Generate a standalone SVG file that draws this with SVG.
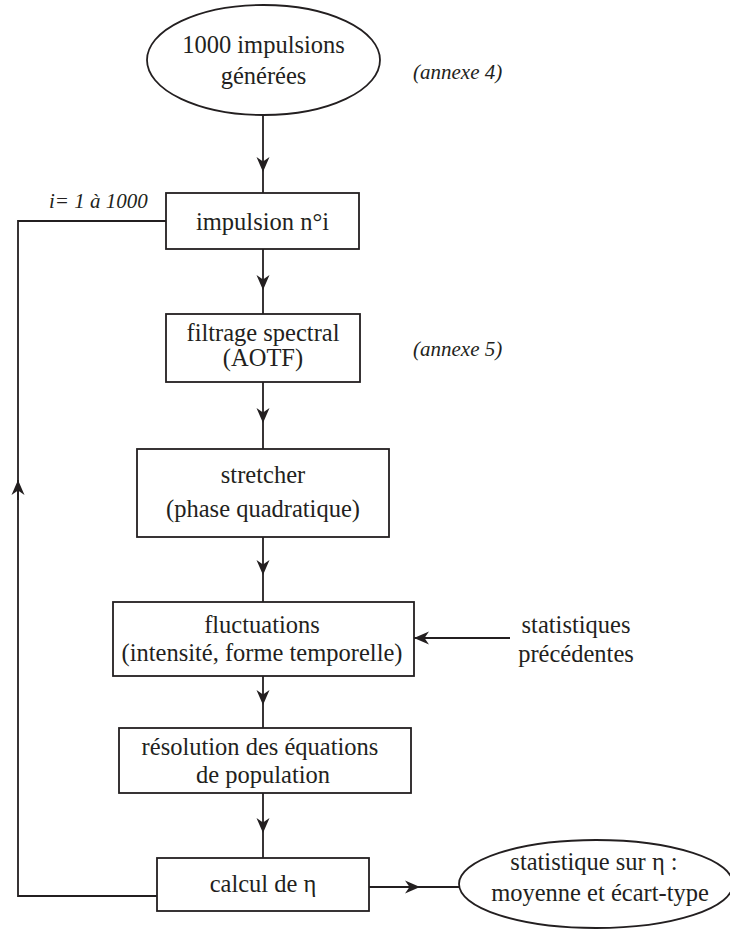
<svg xmlns="http://www.w3.org/2000/svg" width="730" height="929" viewBox="0 0 730 929">
<style>
.shape{fill:#fff;stroke:#231f20;stroke-width:1.8}
.conn{fill:none;stroke:#231f20;stroke-width:1.8}
.t{font-family:'Liberation Serif','Times New Roman',serif;font-size:24.5px;text-anchor:middle;fill:#231f20}
.it{font-family:'Liberation Serif','Times New Roman',serif;font-size:21px;font-style:italic;fill:#231f20}
</style>
<defs>
<marker id="ah" markerUnits="userSpaceOnUse" markerWidth="20" markerHeight="16" viewBox="-16 -8 20 16" refX="0" refY="0" orient="auto">
<path d="M0,0 L-15,-6.5 L-10.5,0 L-15,6.5 Z" fill="#231f20"/>
</marker>
</defs>
<rect width="730" height="929" fill="#fff"/>

<g id="connectors">
<path class="conn" d="M263,115 V172" marker-end="url(#ah)"/>
<path class="conn" d="M263,172 V193"/>
<path class="conn" d="M263,249 V290" marker-end="url(#ah)"/>
<path class="conn" d="M263,290 V314"/>
<path class="conn" d="M263,382 V423" marker-end="url(#ah)"/>
<path class="conn" d="M263,423 V449"/>
<path class="conn" d="M263,537 V575" marker-end="url(#ah)"/>
<path class="conn" d="M263,575 V602"/>
<path class="conn" d="M263,676 V705" marker-end="url(#ah)"/>
<path class="conn" d="M263,705 V728"/>
<path class="conn" d="M263,793 V833" marker-end="url(#ah)"/>
<path class="conn" d="M263,833 V858"/>
<path class="conn" d="M510,638 H414" marker-end="url(#ah)"/>
<path class="conn" d="M369,887 H420" marker-end="url(#ah)"/>
<path class="conn" d="M420,887 H459"/>
<path class="conn" d="M157,896 H18 V221 H166"/>
<path class="conn" d="M18,500 V480" marker-end="url(#ah)"/>
</g>

<g id="n-start">
<ellipse class="shape" cx="263.5" cy="60" rx="116.5" ry="55"/>
<text class="t" x="263.5" y="53">1000 impulsions</text>
<text class="t" x="263.5" y="84">générées</text>
</g>
<g id="n-annexe4"><text class="it" x="413" y="79">(annexe 4)</text></g>

<g id="n-impulsion">
<rect class="shape" x="166" y="193" width="193" height="56"/>
<text class="t" x="262.5" y="230">impulsion n°i</text>
</g>
<g id="n-loop-label"><text class="it" x="49" y="208">i= 1 à 1000</text></g>

<g id="n-filtrage">
<rect class="shape" x="166" y="314" width="194" height="68"/>
<text class="t" x="263" y="341">filtrage spectral</text>
<text class="t" x="263" y="366">(AOTF)</text>
</g>
<g id="n-annexe5"><text class="it" x="413" y="356">(annexe 5)</text></g>

<g id="n-stretcher">
<rect class="shape" x="137" y="449" width="252" height="88"/>
<text class="t" x="263" y="483">stretcher</text>
<text class="t" x="263" y="517">(phase quadratique)</text>
</g>

<g id="n-fluctuations">
<rect class="shape" x="113" y="602" width="301" height="74"/>
<text class="t" x="262" y="633">fluctuations</text>
<text class="t" x="262" y="661">(intensité, forme temporelle)</text>
</g>

<g id="n-statistiques">
<text class="t" x="576" y="633">statistiques</text>
<text class="t" x="576" y="662">précédentes</text>
</g>

<g id="n-resolution">
<rect class="shape" x="119" y="728" width="292" height="65"/>
<text class="t" x="260" y="755">résolution des équations</text>
<text class="t" x="263" y="783">de population</text>
</g>

<g id="n-calcul">
<rect class="shape" x="157" y="858" width="212" height="53"/>
<text class="t" x="263" y="892">calcul de η</text>
</g>

<g id="n-stat-eta">
<ellipse class="shape" cx="596" cy="884" rx="137" ry="44"/>
<text class="t" x="594" y="870">statistique sur η :</text>
<text class="t" x="600" y="901">moyenne et écart-type</text>
</g>
</svg>
